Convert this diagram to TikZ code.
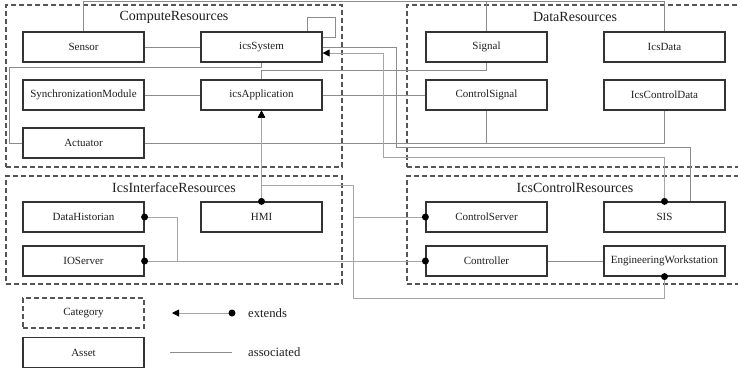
\documentclass[tikz,border=0pt]{standalone}
\usepackage{fontspec}
\setmainfont{Liberation Serif}
\usetikzlibrary{arrows.meta,calc}
\definecolor{boxline}{HTML}{333333}
\definecolor{catline}{HTML}{555555}
\definecolor{assocgray}{HTML}{8C8C8C}
\definecolor{extgray}{HTML}{A6A6A6}
\definecolor{labeltext}{HTML}{1E1E1E}
\begin{document}
\begin{tikzpicture}[x=1pt,y=-1pt,
  asset/.style={draw=boxline, line width=1.2pt, minimum width=121pt, minimum height=30pt,
    inner sep=0pt, font=\fontsize{11}{13}\selectfont, text=labeltext},
  category/.style={draw=catline, line width=1.2pt, dash pattern=on 5pt off 3pt, inner sep=0pt},
  cattitle/.style={font=\fontsize{14}{16}\selectfont, text=labeltext, inner sep=0pt},
  legendtext/.style={font=\fontsize{12.7}{15}\selectfont, text=labeltext, inner sep=0pt, anchor=west},
  assoc/.style={draw=assocgray, line width=0.9pt},
  extline/.style={draw=extgray, line width=0.9pt},
  extends/.style={extline, -{Triangle[length=7pt,width=7pt,color=black]}},
  tail/.style={fill=black},
]
\useasboundingbox (0,0) rectangle (738,368);

% categories
\node[category, minimum width=336pt, minimum height=162pt] (computecat) at (174,86) {};
\node[category, minimum width=336pt, minimum height=162pt] (datacat) at (575,86) {};
\node[category, minimum width=336pt, minimum height=108pt] (ifacecat) at (174,230) {};
\node[category, minimum width=336pt, minimum height=108pt] (ctrlcat) at (575,230) {};
\node[cattitle] (computetitle) at (174,17) {ComputeResources};
\node[cattitle] (datatitle) at (575,17) {DataResources};
\node[cattitle] (ifacetitle) at (174,188) {IcsInterfaceResources};
\node[cattitle] (ctrltitle) at (575,188) {IcsControlResources};

% assets
\node[asset] (sensor) at (83.5,47) {Sensor};
\node[asset] (icssystem) at (261.5,47) {icsSystem};
\node[asset] (signal) at (486.5,47) {Signal};
\node[asset] (icsdata) at (664.5,47) {IcsData};
\node[asset] (sync) at (83.5,95) {SynchronizationModule};
\node[asset] (icsapp) at (261.5,95) {icsApplication};
\node[asset] (ctrlsignal) at (486.5,95) {ControlSignal};
\node[asset] (icsctrldata) at (664.5,95) {IcsControlData};
\node[asset] (actuator) at (83.5,143) {Actuator};
\node[asset] (historian) at (83.5,217) {DataHistorian};
\node[asset] (hmi) at (261.5,217) {HMI};
\node[asset] (ioserver) at (83.5,261) {IOServer};
\node[asset] (ctrlserver) at (486.5,217) {ControlServer};
\node[asset] (sis) at (664.5,217) {SIS};
\node[asset] (controller) at (486.5,261) {Controller};
\node[asset] (ews) at (664.5,261) {EngineeringWorkstation};

% bend points
\coordinate (topY) at (0,1.5);
\coordinate (leftBend) at (9,67);
\coordinate (sisBend) at (396,147);
\coordinate (extBend) at (383,157);
\coordinate (busX) at (353,298);
\coordinate (hub) at (261.5,185);
\coordinate (histBend) at (177,261);

% associations
\draw[assoc] (sensor.east) -- (icssystem.west);
\draw[assoc] ($(icssystem.north)+(45.5,0)$) |- ($(icssystem.east)+(13,-30)$) |- ($(icssystem.east)+(0,-10)$);
\draw[assoc] (sensor.north) |- (icsdata.north |- topY) -- (icsdata.north);
\draw[assoc] (sensor.north) |- (signal.north |- topY) -- (signal.north);
\draw[assoc] (icssystem.south) |- (leftBend) |- (actuator.west);
\draw[assoc] (sync.east) -- (icsapp.west);
\draw[assoc] (icsapp.north) |- ($(signal.south)+(0,8)$) -- (signal.south);
\draw[assoc] (icsapp.east) -- (ctrlsignal.west);
\draw[assoc] (actuator.east) -| (icsctrldata.south);
\draw[assoc] (actuator.east) -| (ctrlsignal.south);
\draw[assoc] (icssystem.east) -| (sisBend) -| ($(sis.north)+(25.5,0)$);
\draw[assoc] (controller.east) -- (ews.west);

% extensions
\draw[extends] (sis.north) |- (extBend) |- ($(icssystem.east)+(0,6)$);
\draw[extends] (hmi.north) -- (icsapp.south);
\draw[extends] (ews.south) |- (busX) |- (hub) -- (icsapp.south);
\draw[extends] (ctrlserver.west) -| (busX |- hub) -- (hub) -- (icsapp.south);
\draw[extline] (historian.east) -| (histBend) -- (controller.west);
\draw[extline] (ioserver.east) -- (controller.west);
\fill[tail] (sis.north) circle[radius=3.5pt];
\fill[tail] (hmi.north) circle[radius=3.5pt];
\fill[tail] (ews.south) circle[radius=3.5pt];
\fill[tail] (ctrlserver.west) circle[radius=3.5pt];
\fill[tail] (historian.east) circle[radius=3.5pt];
\fill[tail] (ioserver.east) circle[radius=3.5pt];
\fill[tail] (controller.west) circle[radius=3.5pt];

% legend
\node[category, minimum width=121pt, minimum height=30pt, font=\fontsize{11}{13}\selectfont, text=labeltext] (legcat) at (83.5,313) {Category};
\node[asset] (legasset) at (83.5,352.5) {Asset};
\coordinate (extHead) at (172,313);
\coordinate (extTail) at (232,313);
\draw[extends] (extTail) -- (extHead);
\fill[tail] (extTail) circle[radius=3.5pt];
\node[legendtext] (extlabel) at (248,313) {extends};
\coordinate (assocA) at (170,352);
\coordinate (assocB) at (232,352);
\draw[assoc] (assocA) -- (assocB);
\node[legendtext] (assoclabel) at (248,352) {associated};
\end{tikzpicture}
\end{document}
